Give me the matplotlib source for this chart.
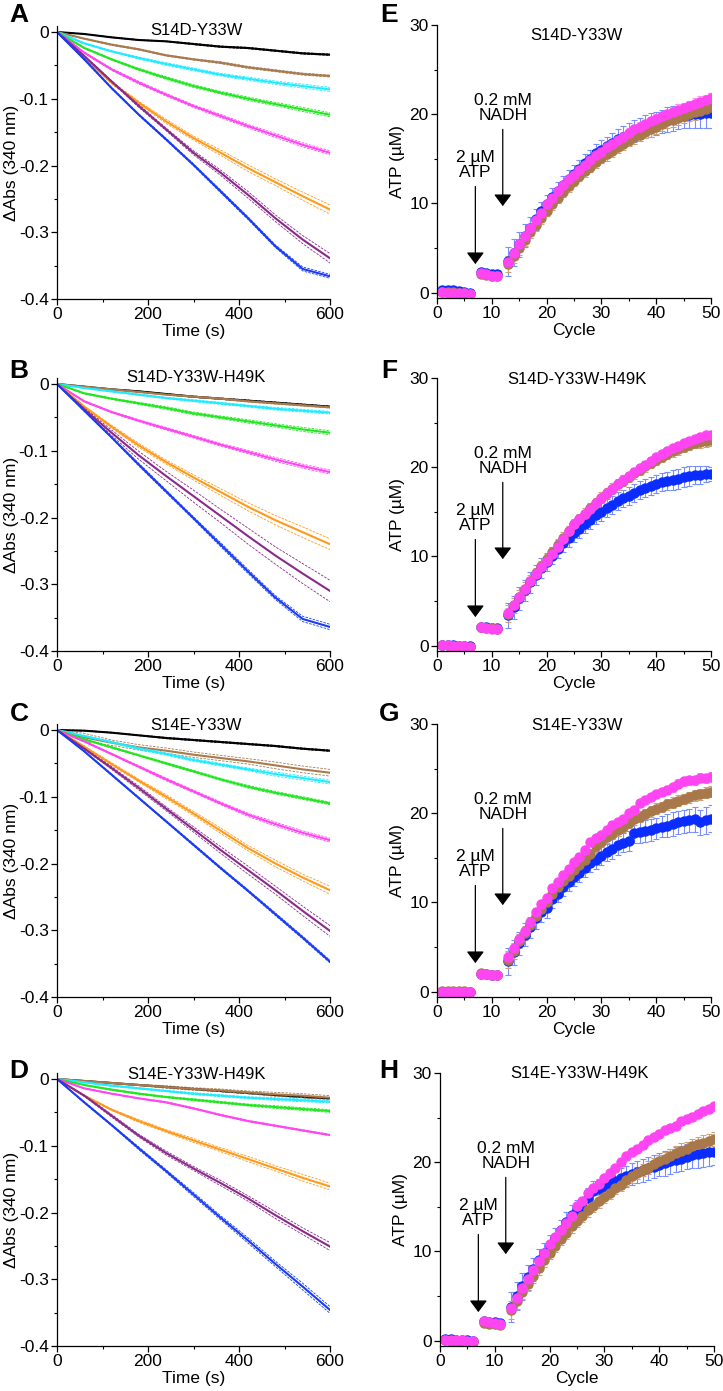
import numpy as np
import matplotlib
matplotlib.use('Agg')
import matplotlib.pyplot as plt
from matplotlib.ticker import MultipleLocator

plt.rcParams['font.family'] = ['Liberation Sans', 'DejaVu Sans']
plt.rcParams['font.size'] = 12
plt.rcParams['axes.unicode_minus'] = False

#=================== left panels: NADH absorbance traces ===================
t_s = [0, 60, 120, 180, 240, 300, 360, 420, 480, 540, 600]

# panel A  S14D-Y33W
a_black = [0, -0.003, -0.008, -0.012, -0.014, -0.018, -0.022, -0.024, -0.028, -0.032, -0.034]
a_brown = [0, -0.010, -0.019, -0.026, -0.035, -0.041, -0.046, -0.053, -0.058, -0.063, -0.066]
a_cyan = [0, -0.017, -0.029, -0.039, -0.048, -0.056, -0.064, -0.070, -0.076, -0.081, -0.086]
a_green = [0, -0.024, -0.041, -0.056, -0.069, -0.081, -0.091, -0.100, -0.108, -0.116, -0.124]
a_magenta = [0, -0.031, -0.056, -0.076, -0.094, -0.111, -0.126, -0.141, -0.155, -0.169, -0.181]
a_orange = [0, -0.039, -0.076, -0.106, -0.134, -0.159, -0.181, -0.204, -0.225, -0.246, -0.266]
a_purple = [0, -0.036, -0.074, -0.111, -0.146, -0.181, -0.211, -0.244, -0.279, -0.311, -0.339]
a_blue = [0, -0.041, -0.084, -0.124, -0.161, -0.199, -0.239, -0.279, -0.321, -0.355, -0.366]
a_black_sd = [0, 0, 0.0005, 0.0005, 0.0005, 0.001, 0.001, 0.001, 0.001, 0.001, 0.001]
a_brown_sd = [0, 0.0005, 0.001, 0.001, 0.001, 0.001, 0.0015, 0.0015, 0.0015, 0.0015, 0.0015]
a_cyan_sd = [0, 0.001, 0.001, 0.0015, 0.002, 0.002, 0.002, 0.0025, 0.0025, 0.003, 0.003]
a_green_sd = [0, 0.001, 0.001, 0.0015, 0.002, 0.002, 0.002, 0.0025, 0.0025, 0.003, 0.003]
a_magenta_sd = [0, 0.001, 0.0015, 0.002, 0.002, 0.002, 0.0025, 0.0025, 0.003, 0.003, 0.003]
a_orange_sd = [0, 0.001, 0.002, 0.002, 0.003, 0.003, 0.004, 0.005, 0.005, 0.006, 0.007]
a_purple_sd = [0, 0.001, 0.001, 0.002, 0.002, 0.003, 0.004, 0.005, 0.005, 0.006, 0.007]
a_blue_sd = [0, 0.001, 0.001, 0.001, 0.0015, 0.0015, 0.002, 0.002, 0.002, 0.003, 0.003]

# panel B  S14D-Y33W-H49K
b_black = [0, -0.004, -0.008, -0.011, -0.015, -0.019, -0.022, -0.025, -0.028, -0.031, -0.034]
b_brown = [0, -0.004, -0.008, -0.012, -0.016, -0.019, -0.022, -0.026, -0.029, -0.032, -0.035]
b_cyan = [0, -0.006, -0.011, -0.016, -0.021, -0.025, -0.029, -0.033, -0.037, -0.040, -0.043]
b_green = [0, -0.014, -0.022, -0.029, -0.036, -0.044, -0.050, -0.056, -0.062, -0.068, -0.073]
b_magenta = [0, -0.026, -0.042, -0.055, -0.067, -0.079, -0.091, -0.102, -0.113, -0.123, -0.132]
b_orange = [0, -0.034, -0.064, -0.092, -0.117, -0.140, -0.162, -0.184, -0.204, -0.222, -0.240]
b_purple = [0, -0.038, -0.073, -0.107, -0.138, -0.168, -0.198, -0.228, -0.257, -0.284, -0.310]
b_blue = [0, -0.040, -0.080, -0.121, -0.161, -0.201, -0.241, -0.281, -0.320, -0.352, -0.364]
b_black_sd = [0, 0, 0.0005, 0.0005, 0.0005, 0.001, 0.001, 0.001, 0.001, 0.001, 0.001]
b_brown_sd = [0, 0, 0.0005, 0.0005, 0.0005, 0.001, 0.001, 0.001, 0.001, 0.001, 0.001]
b_cyan_sd = [0, 0.0005, 0.001, 0.001, 0.001, 0.0015, 0.0015, 0.0015, 0.002, 0.002, 0.002]
b_green_sd = [0, 0.001, 0.001, 0.0015, 0.002, 0.002, 0.002, 0.0025, 0.0025, 0.003, 0.003]
b_magenta_sd = [0, 0.001, 0.001, 0.0015, 0.002, 0.002, 0.002, 0.0025, 0.003, 0.003, 0.003]
b_orange_sd = [0, 0.001, 0.002, 0.003, 0.003, 0.004, 0.005, 0.006, 0.007, 0.008, 0.008]
b_purple_sd = [0, 0.002, 0.004, 0.006, 0.007, 0.009, 0.010, 0.012, 0.013, 0.015, 0.016]
b_blue_sd = [0, 0.001, 0.001, 0.002, 0.002, 0.002, 0.003, 0.003, 0.003, 0.004, 0.004]

# panel C  S14E-Y33W
c_black = [0, -0.001, -0.004, -0.008, -0.012, -0.015, -0.018, -0.021, -0.024, -0.028, -0.031]
c_brown = [0, -0.011, -0.019, -0.026, -0.031, -0.037, -0.042, -0.047, -0.053, -0.059, -0.064]
c_cyan = [0, -0.009, -0.018, -0.028, -0.036, -0.045, -0.052, -0.059, -0.066, -0.072, -0.078]
c_green = [0, -0.014, -0.026, -0.038, -0.050, -0.062, -0.074, -0.085, -0.094, -0.102, -0.110]
c_magenta = [0, -0.017, -0.036, -0.055, -0.074, -0.092, -0.110, -0.127, -0.141, -0.154, -0.165]
c_orange = [0, -0.025, -0.051, -0.076, -0.100, -0.125, -0.151, -0.177, -0.200, -0.221, -0.240]
c_purple = [0, -0.028, -0.057, -0.087, -0.118, -0.149, -0.180, -0.210, -0.240, -0.271, -0.301]
c_blue = [0, -0.032, -0.067, -0.102, -0.137, -0.172, -0.207, -0.241, -0.276, -0.311, -0.347]
c_black_sd = [0, 0.0005, 0.0005, 0.0005, 0.001, 0.001, 0.001, 0.001, 0.001, 0.001, 0.001]
c_brown_sd = [0, 0.006, 0.004, 0.004, 0.004, 0.004, 0.004, 0.004, 0.005, 0.005, 0.005]
c_cyan_sd = [0, 0.001, 0.001, 0.002, 0.002, 0.002, 0.002, 0.002, 0.003, 0.003, 0.003]
c_green_sd = [0, 0.001, 0.001, 0.001, 0.0015, 0.0015, 0.0015, 0.002, 0.002, 0.002, 0.002]
c_magenta_sd = [0, 0.001, 0.001, 0.0015, 0.002, 0.002, 0.002, 0.0025, 0.003, 0.003, 0.003]
c_orange_sd = [0, 0.001, 0.002, 0.002, 0.003, 0.003, 0.004, 0.004, 0.005, 0.005, 0.006]
c_purple_sd = [0, 0.001, 0.002, 0.003, 0.003, 0.004, 0.005, 0.006, 0.006, 0.007, 0.008]
c_blue_sd = [0, 0.0005, 0.001, 0.001, 0.001, 0.0015, 0.0015, 0.0015, 0.002, 0.002, 0.002]

# panel D  S14E-Y33W-H49K
d_black = [0, -0.003, -0.006, -0.009, -0.012, -0.015, -0.018, -0.021, -0.024, -0.027, -0.029]
d_brown = [0, -0.003, -0.006, -0.009, -0.012, -0.015, -0.017, -0.020, -0.023, -0.025, -0.028]
d_cyan = [0, -0.005, -0.010, -0.014, -0.018, -0.022, -0.025, -0.028, -0.030, -0.032, -0.034]
d_green = [0, -0.009, -0.016, -0.022, -0.027, -0.031, -0.035, -0.039, -0.042, -0.045, -0.048]
d_magenta = [0, -0.014, -0.022, -0.029, -0.035, -0.044, -0.054, -0.063, -0.070, -0.077, -0.084]
d_orange = [0, -0.025, -0.046, -0.063, -0.078, -0.092, -0.106, -0.120, -0.134, -0.148, -0.161]
d_purple = [0, -0.025, -0.055, -0.085, -0.111, -0.134, -0.156, -0.179, -0.204, -0.228, -0.251]
d_blue = [0, -0.035, -0.069, -0.104, -0.138, -0.173, -0.208, -0.242, -0.277, -0.311, -0.346]
d_black_sd = [0, 0.0005, 0.0005, 0.0005, 0.001, 0.001, 0.001, 0.001, 0.001, 0.001, 0.001]
d_brown_sd = [0, 0.001, 0.001, 0.001, 0.002, 0.002, 0.002, 0.002, 0.003, 0.003, 0.003]
d_cyan_sd = [0, 0.0005, 0.001, 0.001, 0.001, 0.0015, 0.0015, 0.0015, 0.002, 0.002, 0.002]
d_green_sd = [0, 0.0005, 0.001, 0.001, 0.001, 0.0015, 0.0015, 0.0015, 0.002, 0.002, 0.002]
d_magenta_sd = [0, 0.0005, 0.0005, 0.0005, 0.001, 0.001, 0.001, 0.001, 0.001, 0.001, 0.001]
d_orange_sd = [0, 0.001, 0.001, 0.002, 0.002, 0.003, 0.003, 0.004, 0.004, 0.005, 0.005]
d_purple_sd = [0, 0.001, 0.002, 0.002, 0.003, 0.003, 0.004, 0.004, 0.005, 0.005, 0.006]
d_blue_sd = [0, 0.001, 0.001, 0.002, 0.002, 0.003, 0.003, 0.004, 0.004, 0.005, 0.005]

#=================== right panels: ATP per cycle ===================
cycles = list(range(1, 7)) + list(range(8, 12)) + list(range(13, 51))

# panel E
e_blue = [0.3, 0.3, 0.3, 0.2, 0.1, 0.0, 2.3, 2.2, 2.1, 2.1,
          3.5, 4.5, 5.4, 6.4, 7.3, 8.2, 9.1, 9.9, 10.7, 11.4, 12.1, 12.7, 13.3, 13.9, 14.5, 15.0, 15.6, 16.0, 16.4,
          16.8, 17.2, 17.5, 17.8, 18.1, 18.4, 18.6, 18.8, 19.0, 19.2, 19.4, 19.5, 19.7, 19.8, 19.9, 20.0, 20.0, 20.1, 20.1]
e_brown = [0.1, 0.1, 0.1, 0.0, 0.0, -0.1, 2.1, 2.0, 1.9, 1.9,
           3.2, 4.1, 5.0, 5.9, 6.8, 7.6, 8.4, 9.2, 9.9, 10.6, 11.3, 11.9, 12.5, 13.1, 13.6, 14.1, 14.6, 15.1, 15.5,
           15.9, 16.3, 16.7, 17.1, 17.4, 17.7, 18.0, 18.3, 18.6, 18.9, 19.2, 19.4, 19.6, 19.8, 20.0, 20.2, 20.4, 20.6, 20.8]
e_magenta = [0.1, 0.0, 0.0, 0.0, 0.0, -0.1, 2.2, 2.1, 1.9, 1.9,
             3.4, 4.5, 5.4, 6.3, 7.2, 8.1, 8.9, 9.9, 10.6, 11.4, 12.1, 12.7, 13.2, 13.8, 14.3, 14.9, 15.4, 15.8, 16.3,
             16.7, 17.1, 17.5, 17.9, 18.3, 18.6, 18.9, 19.2, 19.5, 19.8, 20.0, 20.2, 20.5, 20.7, 20.9, 21.2, 21.4, 21.6, 21.8]
e_blue_err = [0.2, 0.2, 0.2, 0.2, 0.2, 0.2, 0.3, 0.2, 0.2, 0.2,
              1.6, 1.5, 1.4, 1.3, 1.2, 1.2, 1.1, 1.1, 1.0, 1.0, 1.0, 1.0, 1.0, 1.0, 1.0, 1.0, 1.1, 1.1, 1.1,
              1.1, 1.1, 1.2, 1.2, 1.2, 1.2, 1.3, 1.3, 1.3, 1.3, 1.4, 1.4, 1.4, 1.4, 1.5, 1.5, 1.5, 1.6, 1.6]
e_brown_err = [0.1, 0.1, 0.1, 0.1, 0.1, 0.1, 0.2, 0.2, 0.2, 0.2,
               0.9, 0.8, 0.8, 0.7, 0.7, 0.7, 0.7, 0.6, 0.6, 0.6, 0.6, 0.6, 0.6, 0.6, 0.6, 0.6, 0.6, 0.6, 0.7,
               0.7, 0.7, 0.7, 0.7, 0.7, 0.7, 0.7, 0.8, 0.8, 0.8, 0.8, 0.8, 0.8, 0.8, 0.8, 0.8, 0.8, 0.8, 0.8]
e_magenta_err = [0.1, 0.1, 0.1, 0.1, 0.1, 0.1, 0.1, 0.1, 0.1, 0.1,
                 0.6, 0.5, 0.5, 0.5, 0.4, 0.4, 0.4, 0.4, 0.4, 0.4, 0.4, 0.4, 0.4, 0.4, 0.4, 0.4, 0.4, 0.5, 0.5,
                 0.5, 0.5, 0.5, 0.5, 0.5, 0.5, 0.5, 0.5, 0.5, 0.5, 0.5, 0.6, 0.6, 0.6, 0.6, 0.6, 0.6, 0.6, 0.6]

# panel F
f_blue = [0.1, 0.1, 0.1, 0.0, 0.0, 0.0, 2.1, 2.1, 2.0, 2.0,
          3.4, 4.3, 5.3, 6.2, 7.1, 7.9, 8.7, 9.4, 10.1, 10.8, 11.5, 12.1, 12.6, 13.1, 13.6, 14.1, 14.6, 15.0, 15.4,
          15.8, 16.2, 16.5, 16.8, 17.1, 17.4, 17.7, 17.9, 18.1, 18.3, 18.5, 18.6, 18.7, 18.9, 19.0, 19.1, 19.1, 19.2, 19.2]
f_brown = [0.1, 0.1, 0.0, 0.0, 0.0, -0.1, 2.1, 2.0, 2.0, 1.9,
           3.6, 4.5, 5.5, 6.4, 7.3, 8.1, 8.9, 9.7, 10.5, 11.3, 12.1, 12.8, 13.6, 14.2, 14.8, 15.4, 16.0, 16.6, 17.1,
           17.6, 18.1, 18.5, 18.9, 19.3, 19.7, 20.1, 20.5, 20.8, 21.2, 21.5, 21.8, 22.0, 22.3, 22.5, 22.7, 22.8, 22.9, 23.0]
f_magenta = [0.1, 0.1, 0.0, 0.0, 0.0, -0.1, 2.1, 2.0, 1.9, 1.9,
             3.7, 4.5, 5.4, 6.3, 7.2, 8.0, 8.8, 9.5, 10.3, 11.1, 12.0, 12.8, 13.6, 14.2, 14.7, 15.3, 16.0, 16.5, 17.1,
             17.6, 18.1, 18.6, 19.0, 19.5, 19.9, 20.3, 20.7, 21.1, 21.5, 21.8, 22.1, 22.4, 22.7, 22.9, 23.2, 23.4, 23.6, 23.6]
f_blue_err = [0.1, 0.1, 0.1, 0.1, 0.1, 0.1, 0.2, 0.2, 0.2, 0.2,
              1.4, 1.3, 1.3, 1.2, 1.2, 1.1, 1.1, 1.0, 1.0, 1.0, 1.0, 1.0, 1.0, 1.0, 1.0, 1.0, 1.0, 1.0, 1.0,
              1.0, 1.0, 1.0, 1.0, 1.0, 1.0, 1.0, 1.0, 1.0, 1.0, 1.0, 1.1, 1.1, 1.1, 1.1, 1.0, 1.0, 0.9, 0.8]
f_brown_err = [0.1, 0.1, 0.1, 0.1, 0.1, 0.1, 0.1, 0.1, 0.1, 0.1,
               0.9, 0.8, 0.7, 0.7, 0.6, 0.6, 0.6, 0.6, 0.6, 0.6, 0.6, 0.6, 0.6, 0.6, 0.6, 0.6, 0.6, 0.6, 0.6,
               0.6, 0.6, 0.6, 0.6, 0.6, 0.6, 0.6, 0.6, 0.6, 0.6, 0.6, 0.6, 0.6, 0.6, 0.6, 0.6, 0.6, 0.6, 0.6]
f_magenta_err = [0.1, 0.1, 0.1, 0.1, 0.1, 0.1, 0.1, 0.1, 0.1, 0.1,
                 0.5, 0.5, 0.4, 0.4, 0.4, 0.4, 0.4, 0.4, 0.4, 0.4, 0.4, 0.4, 0.4, 0.4, 0.4, 0.4, 0.4, 0.4, 0.4,
                 0.4, 0.4, 0.4, 0.4, 0.4, 0.4, 0.4, 0.4, 0.4, 0.4, 0.4, 0.4, 0.4, 0.4, 0.4, 0.4, 0.4, 0.4, 0.4]

# panel G
g_blue = [0.0, 0.0, 0.0, 0.0, 0.0, 0.0, 2.0, 2.0, 1.9, 1.9,
          3.4, 4.4, 5.4, 6.4, 7.2, 8.2, 8.9, 9.4, 10.4, 11.0, 11.7, 12.3, 12.8, 13.3, 13.9, 14.4, 14.8, 15.2, 15.6,
          16.0, 16.4, 16.7, 16.9, 17.8, 17.9, 18.0, 18.1, 18.3, 18.5, 18.6, 18.8, 19.0, 19.1, 19.2, 19.3, 19.0, 19.2, 19.4]
g_brown = [0.1, 0.1, 0.1, 0.1, 0.1, 0.0, 2.1, 2.0, 1.9, 1.9,
           3.6, 4.6, 5.7, 6.6, 7.5, 8.5, 9.3, 10.0, 10.9, 11.7, 12.4, 13.0, 13.6, 14.2, 14.8, 15.4, 16.3, 16.8, 17.3,
           17.7, 18.1, 18.5, 18.9, 19.3, 19.6, 19.9, 20.2, 20.5, 20.7, 21.0, 21.2, 21.4, 21.6, 21.8, 22.0, 22.1, 22.3, 22.4]
g_magenta = [0.0, 0.0, 0.0, 0.0, 0.0, 0.0, 2.0, 2.0, 1.9, 1.9,
             3.9, 4.9, 5.9, 6.8, 7.8, 8.9, 9.8, 10.5, 11.6, 12.3, 13.1, 13.8, 14.5, 15.1, 15.9, 16.8, 17.2, 17.6, 18.1,
             18.7, 19.0, 19.4, 20.0, 20.4, 21.1, 21.5, 21.8, 22.1, 22.4, 22.6, 22.9, 23.3, 23.6, 23.7, 23.7, 24.0, 23.9, 24.1]
g_blue_err = [0.1, 0.1, 0.1, 0.1, 0.1, 0.1, 0.2, 0.2, 0.2, 0.2,
              1.5, 1.4, 1.3, 1.3, 1.2, 1.2, 1.1, 1.1, 1.0, 1.0, 1.0, 1.0, 1.0, 1.0, 1.0, 1.0, 1.0, 1.0, 1.0,
              1.1, 1.1, 1.1, 1.1, 1.1, 1.2, 1.2, 1.2, 1.2, 1.2, 1.3, 1.3, 1.3, 1.3, 1.3, 1.4, 1.4, 1.5, 1.5]
g_brown_err = [0.1, 0.1, 0.1, 0.1, 0.1, 0.1, 0.2, 0.2, 0.2, 0.2,
               1.0, 0.9, 0.8, 0.8, 0.7, 0.7, 0.7, 0.6, 0.6, 0.6, 0.6, 0.6, 0.6, 0.6, 0.6, 0.6, 0.6, 0.6, 0.6,
               0.6, 0.6, 0.6, 0.6, 0.6, 0.6, 0.6, 0.6, 0.6, 0.6, 0.6, 0.6, 0.6, 0.6, 0.6, 0.6, 0.6, 0.6, 0.6]
g_magenta_err = [0.1, 0.1, 0.1, 0.1, 0.1, 0.1, 0.1, 0.1, 0.1, 0.1,
                 0.6, 0.5, 0.5, 0.4, 0.4, 0.4, 0.4, 0.4, 0.4, 0.4, 0.4, 0.4, 0.4, 0.4, 0.4, 0.4, 0.4, 0.4, 0.4,
                 0.4, 0.4, 0.4, 0.4, 0.4, 0.4, 0.4, 0.4, 0.4, 0.4, 0.4, 0.5, 0.5, 0.5, 0.5, 0.5, 0.5, 0.5, 0.5]

# panel H
h_blue = [0.2, 0.2, 0.1, 0.1, 0.1, 0.0, 2.2, 2.1, 2.1, 2.0,
          3.8, 5.0, 6.1, 7.1, 8.0, 9.0, 9.8, 10.6, 11.5, 12.4, 13.3, 14.1, 14.7, 15.0, 16.0, 16.8, 17.0, 17.3, 17.6,
          17.9, 18.2, 18.4, 18.7, 18.9, 19.1, 19.3, 19.5, 19.7, 19.9, 20.1, 20.3, 20.4, 20.6, 20.8, 20.9, 21.0, 21.1, 21.2]
h_brown = [0.1, 0.0, 0.0, -0.1, -0.2, -0.2, 2.0, 1.9, 1.9, 1.8,
           3.4, 4.5, 5.5, 6.4, 7.2, 8.1, 9.0, 9.8, 10.6, 11.4, 12.1, 12.8, 13.4, 14.0, 14.6, 15.1, 15.6, 16.1, 16.6,
           17.1, 17.5, 18.0, 18.4, 18.8, 19.1, 19.4, 19.8, 20.1, 20.4, 20.7, 21.0, 21.3, 21.5, 21.8, 22.0, 22.2, 22.4, 22.6]
h_magenta = [0.1, 0.1, 0.1, 0.1, 0.0, 0.0, 2.2, 2.1, 2.0, 1.9,
             3.7, 4.8, 5.9, 6.9, 7.9, 8.9, 9.8, 10.8, 11.6, 12.4, 13.2, 14.0, 15.1, 15.6, 16.5, 17.1, 17.6, 18.2, 18.8,
             19.3, 20.0, 20.7, 21.2, 21.5, 21.9, 22.5, 22.8, 23.2, 23.6, 23.8, 24.1, 24.6, 24.9, 25.1, 25.4, 25.7, 26.0, 26.3]
h_blue_err = [0.1, 0.1, 0.1, 0.1, 0.1, 0.1, 0.2, 0.2, 0.2, 0.2,
              1.7, 1.6, 1.5, 1.4, 1.3, 1.3, 1.2, 1.2, 1.1, 1.1, 1.1, 1.1, 1.1, 1.1, 1.1, 1.1, 1.1, 1.1, 1.1,
              1.2, 1.2, 1.2, 1.2, 1.2, 1.3, 1.3, 1.3, 1.3, 1.4, 1.4, 1.4, 1.4, 1.4, 1.5, 1.5, 1.5, 1.5, 1.5]
h_brown_err = [0.1, 0.1, 0.1, 0.1, 0.1, 0.1, 0.2, 0.2, 0.2, 0.2,
               1.0, 0.9, 0.8, 0.8, 0.7, 0.7, 0.7, 0.7, 0.7, 0.7, 0.7, 0.7, 0.7, 0.7, 0.7, 0.7, 0.7, 0.7, 0.7,
               0.7, 0.7, 0.7, 0.7, 0.7, 0.7, 0.7, 0.7, 0.7, 0.7, 0.8, 0.8, 0.8, 0.8, 0.8, 0.8, 0.8, 0.8, 0.8]
h_magenta_err = [0.1, 0.1, 0.1, 0.1, 0.1, 0.1, 0.1, 0.1, 0.1, 0.1,
                 0.5, 0.5, 0.4, 0.4, 0.4, 0.4, 0.4, 0.4, 0.4, 0.4, 0.4, 0.4, 0.4, 0.4, 0.4, 0.4, 0.4, 0.4, 0.4,
                 0.4, 0.4, 0.4, 0.4, 0.4, 0.4, 0.4, 0.4, 0.4, 0.4, 0.4, 0.4, 0.4, 0.4, 0.4, 0.4, 0.4, 0.4, 0.4]

titles_left = ['S14D-Y33W', 'S14D-Y33W-H49K', 'S14E-Y33W', 'S14E-Y33W-H49K']
letters_left = ['A', 'B', 'C', 'D']
letters_right = ['E', 'F', 'G', 'H']
yticks_left = [0, -0.1, -0.2, -0.3, -0.4]
yticklabels_left = ['0', '-0.1', '-0.2', '-0.3', '-0.4']

trace_colors = ['#000000', '#a87a4e', '#22eaff', '#22e622', '#ff44f2', '#ff9a1c', '#8a2a8a', '#1a3cf5']
atp_colors = ['#0a2cff', '#a8784a', '#ff45f2']
atp_err_colors = ['#7890ff', '#c9a47e', '#ff90f5']

left_data = [
    ([a_black, a_brown, a_cyan, a_green, a_magenta, a_orange, a_purple, a_blue],
     [a_black_sd, a_brown_sd, a_cyan_sd, a_green_sd, a_magenta_sd, a_orange_sd, a_purple_sd, a_blue_sd]),
    ([b_black, b_brown, b_cyan, b_green, b_magenta, b_orange, b_purple, b_blue],
     [b_black_sd, b_brown_sd, b_cyan_sd, b_green_sd, b_magenta_sd, b_orange_sd, b_purple_sd, b_blue_sd]),
    ([c_black, c_brown, c_cyan, c_green, c_magenta, c_orange, c_purple, c_blue],
     [c_black_sd, c_brown_sd, c_cyan_sd, c_green_sd, c_magenta_sd, c_orange_sd, c_purple_sd, c_blue_sd]),
    ([d_black, d_brown, d_cyan, d_green, d_magenta, d_orange, d_purple, d_blue],
     [d_black_sd, d_brown_sd, d_cyan_sd, d_green_sd, d_magenta_sd, d_orange_sd, d_purple_sd, d_blue_sd]),
]
right_data = [
    ([e_blue, e_brown, e_magenta], [e_blue_err, e_brown_err, e_magenta_err]),
    ([f_blue, f_brown, f_magenta], [f_blue_err, f_brown_err, f_magenta_err]),
    ([g_blue, g_brown, g_magenta], [g_blue_err, g_brown_err, g_magenta_err]),
    ([h_blue, h_brown, h_magenta], [h_blue_err, h_brown_err, h_magenta_err]),
]

W, H = 723, 1391
fig = plt.figure(figsize=(W / 100, H / 100), dpi=100)

# axes boxes in pixels (top, bottom) measured from the top of the image
left_box = [(26, 299), (378, 651), (724, 997), (1073, 1346)]
right_box = [(25, 298), (378, 651), (724, 997), (1073, 1346)]
right_x0 = [437, 437, 437, 440]
left_title_y = [0.985, 1.0, 0.996, 0.993]
right_title_y = [0.963, 0.993, 0.996, 1.0]
letter_y = [15, 371, 714, 1071]


def style_axes(ax):
    for s in ['top', 'right']:
        ax.spines[s].set_visible(False)
    for s in ['left', 'bottom']:
        ax.spines[s].set_linewidth(0.9)
    ax.tick_params(which='major', direction='out', length=4, width=0.9, labelsize=12.5, pad=2)
    ax.tick_params(which='minor', direction='out', length=2.5, width=0.8)


for i in range(4):
    # ---------- absorbance ----------
    top, bot = left_box[i]
    ax = fig.add_axes([57 / W, 1 - bot / H, 273 / W, (bot - top) / H])
    means, sds = left_data[i]
    for m, sd, col in zip(means, sds, trace_colors):
        m = np.array(m)
        sd = np.array(sd)
        ax.plot(t_s, m + sd, color=col, lw=0.6, ls=(0, (3, 1.5)))
        ax.plot(t_s, m - sd, color=col, lw=0.6, ls=(0, (3, 1.5)))
        ax.plot(t_s, m, color=col, lw=1.5)
    ax.set_xlim(0, 600)
    ax.set_ylim(-0.4, 0.009)
    ax.set_xticks([0, 200, 400, 600])
    ax.xaxis.set_minor_locator(MultipleLocator(100))
    ax.set_yticks(yticks_left)
    ax.set_yticklabels(yticklabels_left)
    ax.yaxis.set_minor_locator(MultipleLocator(0.05))
    style_axes(ax)
    ax.set_xlabel('Time (s)', labelpad=1, fontsize=12.5)
    ax.set_ylabel('ΔAbs (340 nm)', labelpad=0, fontsize=12.5)
    ax.text(0.51, left_title_y[i], titles_left[i], transform=ax.transAxes,
            ha='center', va='center', fontsize=12)
    fig.text(19 / W, 1 - letter_y[i] / H, letters_left[i], fontsize=19, fontweight='bold',
             ha='center', va='center')

    # ---------- ATP ----------
    top, bot = right_box[i]
    ax = fig.add_axes([right_x0[i] / W, 1 - bot / H, 274 / W, (bot - top) / H])
    vals, errs = right_data[i]
    for v, e, col, ecol in zip(vals, errs, atp_colors, atp_err_colors):
        ax.errorbar(cycles, v, yerr=e, fmt='o', ms=6.5, color=col, mec=col, ecolor=ecol,
                    elinewidth=0.8, capsize=2.5, capthick=0.8)
    ax.set_xlim(0, 50)
    ax.set_ylim(-0.6, 30)
    ax.set_xticks([0, 10, 20, 30, 40, 50])
    ax.set_yticks([0, 10, 20, 30])
    ax.xaxis.set_minor_locator(MultipleLocator(5))
    ax.yaxis.set_minor_locator(MultipleLocator(5))
    style_axes(ax)
    ax.set_xlabel('Cycle', labelpad=1, fontsize=12.5)
    ax.set_ylabel('ATP (µM)', labelpad=3, fontsize=12.5)
    ax.text(0.51, right_title_y[i], titles_left[i], transform=ax.transAxes,
            ha='center', va='center', fontsize=12)

    arrow_style = '-|>,head_length=0.4,head_width=0.3'
    ax.text(7, 14.3, '2 µM\nATP', ha='center', va='center', linespacing=0.95, fontsize=12.5)
    ax.annotate('', xy=(7, 3.2), xytext=(7, 11.9),
                arrowprops=dict(arrowstyle=arrow_style, mutation_scale=18, color='k',
                                lw=0.9, shrinkA=0, shrinkB=0))
    ax.text(12, 20.7, '0.2 mM\nNADH', ha='center', va='center', linespacing=0.95, fontsize=12.5)
    ax.annotate('', xy=(12, 9.7), xytext=(12, 18.3),
                arrowprops=dict(arrowstyle=arrow_style, mutation_scale=18, color='k',
                                lw=0.9, shrinkA=0, shrinkB=0))
    fig.text(389 / W, 1 - letter_y[i] / H, letters_right[i], fontsize=19, fontweight='bold',
             ha='center', va='center')

fig.savefig('out.png', dpi=100)
